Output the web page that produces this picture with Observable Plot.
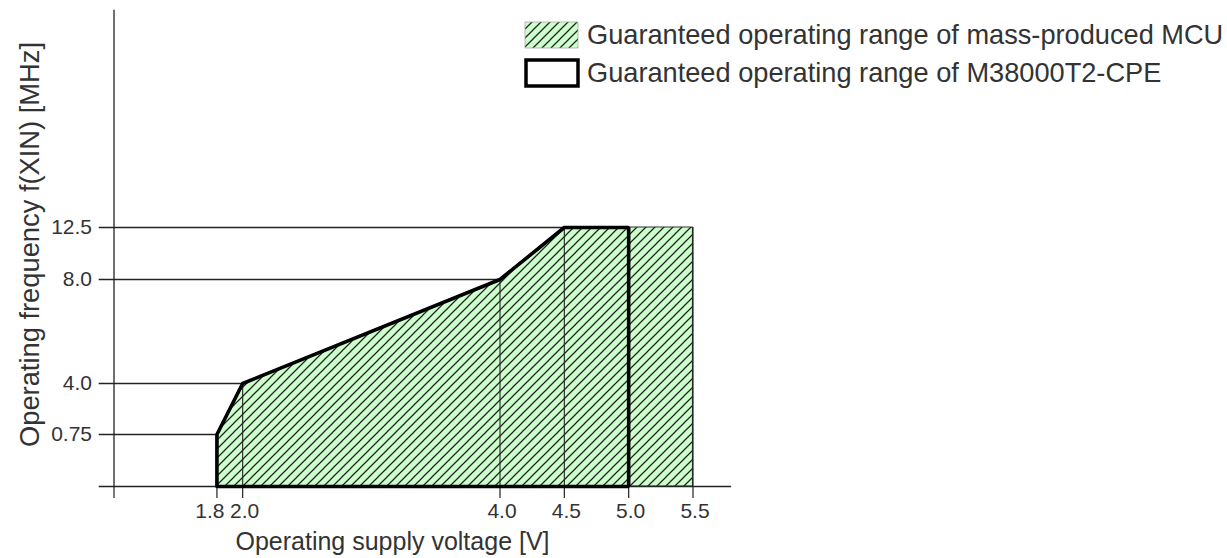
<!DOCTYPE html>
<html>
<head>
<meta charset="utf-8">
<script src="https://cdn.jsdelivr.net/npm/d3@7"></script>
<script src="https://cdn.jsdelivr.net/npm/@observablehq/plot@0.6"></script>
<style>
  html, body { margin: 0; padding: 0; background: #fff; }
  #wrap { position: relative; width: 1227px; height: 558px; font-family: "Liberation Sans", Arial, sans-serif; }
  #legend { position: absolute; left: 524px; top: 16px; color: #333; font-size: 27.2px; line-height: 38px; white-space: nowrap; }
  #legend .row { display: flex; align-items: center; height: 38px; }
  #legend svg { margin-right: 7px; display: block; }
</style>
</head>
<body>
<svg width="0" height="0" style="position:absolute">
  <defs>
    <pattern id="hatch" patternUnits="userSpaceOnUse" width="9" height="9">
      <rect width="9" height="9" fill="#ccffcc"></rect>
      <path d="M-1,1 l2,-2 M0,9 l9,-9 M8,10 l2,-2" stroke="#222" stroke-width="1.25"></path>
    </pattern>
  </defs>
</svg>
<div id="wrap">
  <div id="chart"></div>
  <div id="legend"></div>
</div>
<script>
// ---- data ----
const seriesNames = ["Guaranteed operating range of mass-produced MCU", "Guaranteed operating range of M38000T2-CPE"];
// boundary of the mass-produced MCU range (voltage V, frequency MHz)
const mcuVoltage = [1.8, 1.8, 2.0, 4.0, 4.5, 5.5, 5.5];
const mcuFreq    = [0,   0.75, 4.0, 8.0, 12.5, 12.5, 0];
// boundary of the M38000T2-CPE range
const cpeVoltage = [1.8, 1.8, 2.0, 4.0, 4.5, 5.0, 5.0, 1.8];
const cpeFreq    = [0,   0.75, 4.0, 8.0, 12.5, 12.5, 0, 0];
const xTicks = [1.8, 2.0, 4.0, 4.5, 5.0, 5.5];
const yTicks = [0.75, 4.0, 8.0, 12.5];
const yTickLabels = ["0.75", "4.0", "8.0", "12.5"];
const xTitle = "Operating supply voltage [V]";
const yTitle = "Operating frequency f(XIN) [MHz]";

// ---- derived tables ----
const mcu = mcuVoltage.map((v, i) => ({v, f: mcuFreq[i]}));
const cpe = cpeVoltage.map((v, i) => ({v, f: cpeFreq[i]}));
const mcuTop = mcu.filter(d => d.f > 0);
const hGuides = yTicks.map(t => ({f: t, v: mcu.find(d => d.f === t).v}));
const vGuides = xTicks.map(t => ({v: t, f: d3.max(mcu.filter(d => d.v === t), d => d.f)}));
const xMin = 1.0;
const fmt = d3.format(".1f");

const chart = Plot.plot({
  width: 1227,
  height: 558,
  marginLeft: 113.5,
  marginRight: 1227 - 692.5,
  marginTop: 10,
  marginBottom: 72,
  x: {domain: [xMin, 5.5], range: [113.5, 692.5]},
  y: {type: "linear", domain: [0, 0.75, 4, 8, 12.5], range: [486, 434, 383, 279, 227]},
  style: {fontFamily: "'Liberation Sans', Arial, sans-serif", fontSize: "21px", color: "#333", background: "#fff"},
  marks: [
    Plot.areaY(mcuTop, {x: "v", y1: 0, y2: "f", fill: "url(#hatch)", stroke: "#333", strokeWidth: 1.2}),
    Plot.ruleY(hGuides, {y: "f", x1: 0.885, x2: "v", stroke: "#222", strokeWidth: 1.3}),
    Plot.ruleX(vGuides, {x: "v", y1: 0, y2: "f", stroke: "#222", strokeWidth: 1.1}),
    Plot.ruleY([0], {x1: 0.885, x2: 5.8, stroke: "#222", strokeWidth: 1.3}),
    Plot.frame({anchor: "left", stroke: "#222", strokeWidth: 1.3}),
    Plot.axisX({ticks: [xMin, ...xTicks], tickSize: 12, tickFormat: () => "", label: null, stroke: "#222", strokeWidth: 1.2}),
    Plot.axisX({ticks: xTicks.slice(0, 1), tickSize: 0, tickPadding: 17, dx: -7, tickFormat: fmt, label: null}),
    Plot.axisX({ticks: xTicks.slice(1), tickSize: 0, tickPadding: 17, dx: 2, tickFormat: fmt, label: null}),
    Plot.axisY({ticks: yTicks, tickSize: 0, tickPadding: 22, tickFormat: d => yTickLabels[yTicks.indexOf(d)], label: null}),
    Plot.line(cpe, {x: "v", y: "f", stroke: "#000", strokeWidth: 3.6, strokeLinejoin: "miter"}),
    Plot.text([xTitle], {frameAnchor: "bottom", dx: -11, dy: 55, fontSize: 25, fill: "#333", lineAnchor: "middle"}),
    Plot.text([yTitle], {frameAnchor: "left", dx: -84, dy: -4, rotate: -90, fontSize: 27.3, fill: "#333", textAnchor: "middle", lineAnchor: "middle"})
  ]
});
document.getElementById("chart").appendChild(chart);

// legend
const legend = d3.select("#legend");
const r1 = legend.append("div").attr("class", "row");
const s1 = r1.append("svg").attr("width", 56).attr("height", 28);
s1.append("rect").attr("x", 1).attr("y", 1).attr("width", 53).attr("height", 26).attr("fill", "url(#hatch)").attr("stroke", "#aaa").attr("stroke-width", 0.8);
r1.append("span").text(seriesNames[0]);
const r2 = legend.append("div").attr("class", "row");
const s2 = r2.append("svg").attr("width", 56).attr("height", 30);
s2.append("rect").attr("x", 2).attr("y", 2).attr("width", 52).attr("height", 26).attr("fill", "#fff").attr("stroke", "#000").attr("stroke-width", 3.5);
r2.append("span").text(seriesNames[1]);
</script>
</body>
</html>
